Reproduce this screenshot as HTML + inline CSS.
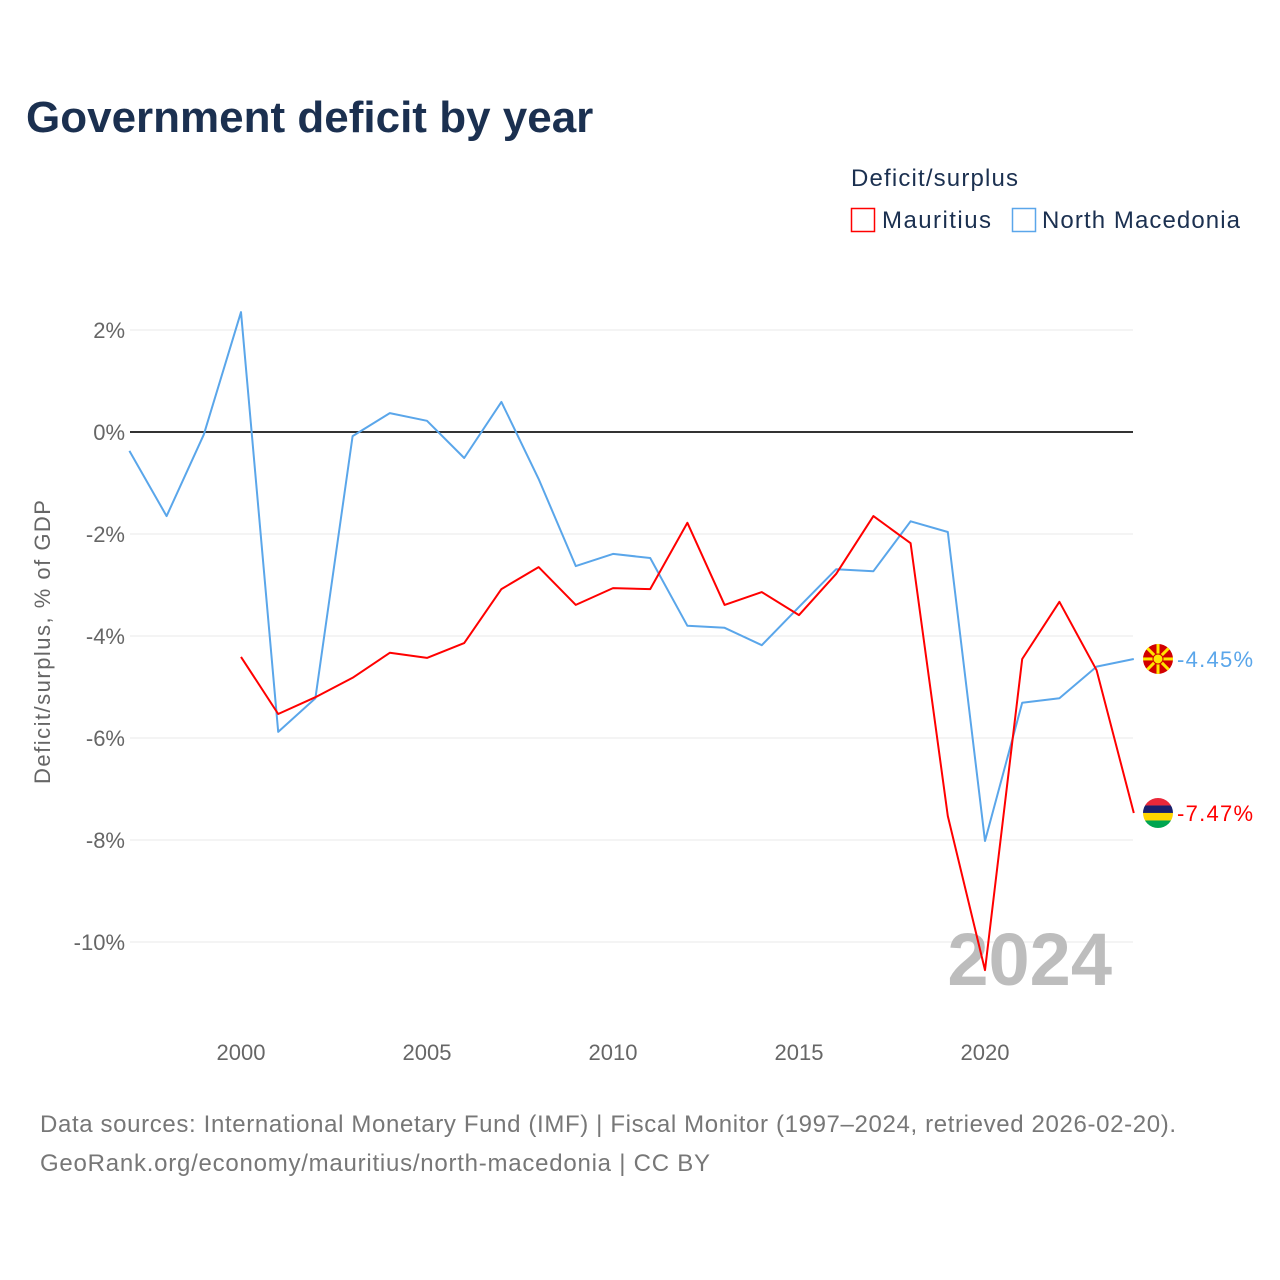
<!DOCTYPE html>
<html><head><meta charset="utf-8">
<style>
html,body{margin:0;padding:0;background:#fff;}
body{width:1280px;height:1280px;position:relative;font-family:"Liberation Sans",sans-serif;overflow:hidden;}
svg{position:absolute;left:0;top:0;}
</style></head>
<body>
<svg id="chart" width="1280" height="1280">
  <text x="26" y="132" font-size="44" font-weight="bold" fill="#1b3050">Government deficit by year</text>
  <text x="851" y="186" font-size="24" fill="#1b3050" textLength="167">Deficit/surplus</text>
  <g>
    <rect x="851.5" y="208.5" width="23" height="23" fill="#fff" stroke="#ff0000" stroke-width="1.5"/>
    <text x="882" y="228" font-size="24" fill="#1b3050" textLength="109">Mauritius</text>
  </g>
  <g>
    <rect x="1012.5" y="208.5" width="23" height="23" fill="#fff" stroke="#5aa6ea" stroke-width="1.5"/>
    <text x="1042" y="228" font-size="24" fill="#1b3050" textLength="198">North Macedonia</text>
  </g>
  <text transform="translate(50,642) rotate(-90)" text-anchor="middle" font-size="22" fill="#666" textLength="284">Deficit/surplus, % of GDP</text>
  <g id="grid"></g>
  <g id="yticks"></g>
  <g id="xticks"></g>
  <text x="1112" y="985" text-anchor="end" font-size="74" font-weight="bold" fill="#bdbdbd">2024</text>
  <g id="series"></g>
  <g id="endlabels"></g>
  <text x="40" y="1132" font-size="24" fill="#777" textLength="1136">Data sources: International Monetary Fund (IMF) | Fiscal Monitor (1997–2024, retrieved 2026-02-20).</text>
  <text x="40" y="1171" font-size="24" fill="#777" textLength="670">GeoRank.org/economy/mauritius/north-macedonia | CC BY</text>
</svg>
<script>
const years = [1997,1998,1999,2000,2001,2002,2003,2004,2005,2006,2007,2008,2009,2010,2011,2012,2013,2014,2015,2016,2017,2018,2019,2020,2021,2022,2023,2024];
const macedonia = [-0.37,-1.65,-0.05,2.35,-5.88,-5.22,-0.08,0.37,0.22,-0.51,0.59,-0.92,-2.63,-2.39,-2.47,-3.8,-3.84,-4.18,-3.43,-2.69,-2.73,-1.75,-1.96,-8.02,-5.31,-5.22,-4.6,-4.45];
const mauritius = [null,null,null,-4.41,-5.53,-5.2,-4.82,-4.33,-4.43,-4.14,-3.08,-2.65,-3.39,-3.06,-3.08,-1.78,-3.39,-3.14,-3.59,-2.78,-1.65,-2.18,-7.53,-10.55,-4.45,-3.33,-4.67,-7.47];
const yTicks = [2,0,-2,-4,-6,-8,-10];
const xTicks = [2000,2005,2010,2015,2020];

const NS="http://www.w3.org/2000/svg";
function xs(y){return 129.4+(y-1997)*37.2;}
function ys(v){return 432-v*51;}
function mk(t,a,p){const e=document.createElementNS(NS,t);for(const k in a)e.setAttribute(k,a[k]);p.appendChild(e);return e;}

const grid=document.getElementById('grid'), yt=document.getElementById('yticks'), xt=document.getElementById('xticks');
yTicks.forEach(v=>{
  const l=mk('line',{x1:130,x2:1133,y1:ys(v),y2:ys(v),stroke:v===0?'#333':'#e8e8e8','stroke-width':v===0?2:1},grid);
  
  
  const t=mk('text',{x:125,y:ys(v)+8,'text-anchor':'end','font-size':22,fill:'#666'},yt);
  t.textContent=v+'%';
  
  
});
xTicks.forEach(y=>{
  const t=mk('text',{x:xs(y),y:1060,'text-anchor':'middle','font-size':22,fill:'#666'},xt);
  t.textContent=y;
  
  
});
function line(vals,color,name){
  let d='';let started=false;
  vals.forEach((v,i)=>{if(v===null)return;d+=(started?'L':'M')+xs(years[i]).toFixed(1)+','+ys(v).toFixed(1);started=true;});
  const p=mk('path',{d:d,fill:'none',stroke:color,'stroke-width':2,'stroke-linejoin':'round'},document.getElementById('series'));
  
  
}
line(macedonia,'#5aa6ea','line-north-macedonia');
line(mauritius,'#ff0000','line-mauritius');

const el=document.getElementById('endlabels');
function endLabel(v,color,name,flag){
  const y=ys(v);
  const g=mk('g',{},el);
  
  
  if(flag==='mk'){
    mk('circle',{cx:1158,cy:y,r:15,fill:'#d20000'},g);
    for(let a=0;a<8;a++){const r=a*Math.PI/4;mk('line',{x1:1158,y1:y,x2:1158+15*Math.cos(r),y2:y+15*Math.sin(r),stroke:'#ffe600','stroke-width':3},g);}
    mk('circle',{cx:1158,cy:y,r:5,fill:'#ffe600',stroke:'#d20000','stroke-width':1},g);
  } else {
    const cp=mk('clipPath',{id:'cpm'},g);
    mk('circle',{cx:1158,cy:y,r:15},cp);
    const cols=['#ea2839','#1a206d','#ffd500','#00a551'];
    cols.forEach((c,i)=>mk('rect',{x:1143,y:y-15+i*7.5,width:30,height:7.5,fill:c,'clip-path':'url(#cpm)'},g));
  }
  const t=mk('text',{x:1177,y:y+8,'font-size':22,fill:color,textLength:76},g);
  t.textContent=v.toFixed(2)+'%';
}
endLabel(macedonia[macedonia.length-1],'#5aa6ea','end-label-north-macedonia','mk');
endLabel(mauritius[mauritius.length-1],'#ff0000','end-label-mauritius','mu');
</script>
</body></html>
